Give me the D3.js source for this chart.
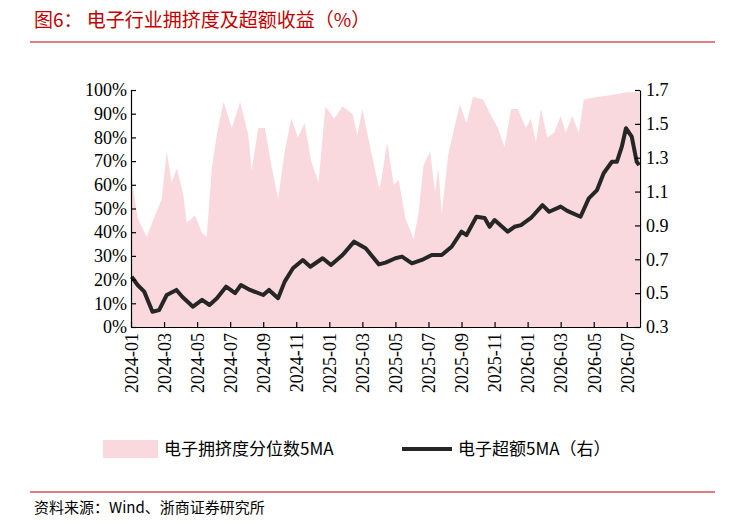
<!DOCTYPE html>
<html><head><meta charset="utf-8">
<script src="https://cdn.jsdelivr.net/npm/d3@7"></script>
<style>body{margin:0;background:#fff}</style>
</head><body><div id="chart"></div>
<script>
// month offsets from 2024-01
const crowdT = [0,0.04,0.4,0.95,1.45,1.86,2.16,2.46,2.77,3.16,3.37,3.88,4.28,4.58,4.89,5.19,5.6,6.1,6.6,7.1,7.3,7.7,8.1,8.5,8.9,9.3,9.7,10.1,10.5,10.9,11.35,11.76,12.3,12.8,13.4,13.7,14.0,14.5,15.0,15.1,15.5,15.9,16.2,16.6,17.1,17.4,17.7,18.1,18.4,18.6,18.8,19.2,19.5,19.9,20.3,20.7,21.3,21.8,22.2,22.6,23.0,23.4,23.9,24.2,24.5,24.8,25.2,25.6,26.0,26.3,26.7,27.1,27.4,28.2,29.2,30.0,30.75];
const crowdV = [63,63,46,38,47,54,74,61,67,56,44,47,40,38,67,81,95,84,95,81,66,84,84,68,54,74,88,80,86,70,61,93,88,93,90,81,92,75,59,60,78,60,62,46,37,48,68,74,57,67,48,73,82,94,86,97,96,89,84,76,92,92,84,88,78,92,80,82,89,82,89,82,96,97,98,99,99];
const exT = [0.04,0.4,0.8,1.3,1.7,2.16,2.75,3.1,3.75,4.3,4.75,5.2,5.75,6.3,6.65,7.2,8.0,8.35,8.9,9.3,9.8,10.4,10.85,11.6,12.1,12.8,13.5,14.2,15.0,15.4,16.0,16.4,17.0,17.6,18.2,18.8,19.4,20.0,20.3,20.9,21.4,21.7,22.0,22.8,23.2,23.6,24.2,24.9,25.3,26.0,26.4,27.2,27.7,28.2,28.6,29.1,29.4,29.7,29.95,30.3,30.6,30.75];
const exV = [0.597,0.548,0.509,0.39,0.40,0.489,0.519,0.479,0.42,0.46,0.43,0.47,0.538,0.50,0.548,0.519,0.489,0.519,0.47,0.568,0.647,0.696,0.656,0.706,0.666,0.725,0.804,0.765,0.67,0.68,0.706,0.716,0.676,0.696,0.725,0.725,0.774,0.863,0.843,0.951,0.944,0.892,0.932,0.863,0.892,0.902,0.944,1.02,0.981,1.011,0.986,0.951,1.06,1.109,1.208,1.276,1.276,1.365,1.474,1.425,1.276,1.256];
const tickLabels = ["2024-01","2024-03","2024-05","2024-07","2024-09","2024-11","2025-01","2025-03","2025-05","2025-07","2025-09","2025-11","2026-01","2026-03","2026-05","2026-07"];
const leftTicks = [0,10,20,30,40,50,60,70,80,90,100];
const rightTicks = [0.3,0.5,0.7,0.9,1.1,1.3,1.5,1.7];

const W = 729, H = 522;
const m = {left:131, right:640, top:90, bottom:327};
const svg = d3.select("#chart").append("svg").attr("width", W).attr("height", H);
const serif = "'Liberation Serif','Noto Sans CJK SC',serif";
const cjk = "'Noto Sans CJK SC',sans-serif";

svg.append("text").attr("x", 34).attr("y", 27).attr("fill", "#c00000")
  .attr("font-family", cjk).attr("font-size", 19).text("图6：  电子行业拥挤度及超额收益（%）");
svg.append("line").attr("x1", 30).attr("x2", 715).attr("y1", 42).attr("y2", 42).attr("stroke", "#c00000").attr("stroke-width", 1.2);

const x = d3.scaleLinear().domain([0, 30.8]).range([m.left, m.right]);
const yL = d3.scaleLinear().domain([0, 100]).range([m.bottom, m.top]);
const yR = d3.scaleLinear().domain([0.3, 1.7]).range([m.bottom, m.top]);

const crowd = crowdT.map((t, i) => [t, crowdV[i]]);
const ex = exT.map((t, i) => [t, exV[i]]);

svg.append("path").datum(crowd).attr("fill", "#f9d9de")
  .attr("d", d3.area().x(d => x(d[0])).y0(yL(0)).y1(d => yL(d[1])));
svg.append("path").datum(ex).attr("fill", "none").attr("stroke", "#262626").attr("stroke-width", 4)
  .attr("stroke-linejoin", "round")
  .attr("d", d3.line().x(d => x(d[0])).y(d => yR(d[1])));

const gl = svg.append("g").attr("transform", `translate(${m.left},0)`)
  .call(d3.axisLeft(yL).tickValues(leftTicks).tickSizeInner(-5).tickSizeOuter(0).tickPadding(4).tickFormat(d => d + "%"));
const gr = svg.append("g").attr("transform", `translate(${m.right},0)`)
  .call(d3.axisRight(yR).tickValues(rightTicks).tickSizeInner(-5).tickSizeOuter(0).tickPadding(6).tickFormat(d3.format(".1f")));
const gb = svg.append("g").attr("transform", `translate(0,${m.bottom})`)
  .call(d3.axisBottom(x).tickValues(d3.range(0, 31, 2)).tickSizeInner(-5).tickSizeOuter(0).tickFormat((d, i) => tickLabels[i]));
gb.selectAll("text").attr("transform", "rotate(-90)").attr("text-anchor", "end")
  .attr("x", -6).attr("y", 0).attr("dy", "0.35em");
[gl, gr, gb].forEach(g => {
  g.selectAll("text").attr("font-family", serif).attr("font-size", 18).attr("fill", "#000");
  g.selectAll("line,path").attr("stroke", "#000").attr("stroke-width", 1.2);
});

// legend
const lg = svg.append("g").attr("font-family", cjk).attr("font-size", 17);
lg.append("rect").attr("x", 103).attr("y", 440).attr("width", 55).attr("height", 18).attr("fill", "#f9d9de");
lg.append("text").attr("x", 164).attr("y", 455).text("电子拥挤度分位数5MA");
lg.append("line").attr("x1", 402).attr("x2", 452).attr("y1", 449).attr("y2", 449).attr("stroke", "#262626").attr("stroke-width", 4);
lg.append("text").attr("x", 458).attr("y", 455).text("电子超额5MA（右）");

svg.append("line").attr("x1", 30).attr("x2", 715).attr("y1", 492).attr("y2", 492).attr("stroke", "#c00000").attr("stroke-width", 1.2);
svg.append("text").attr("x", 34).attr("y", 513).attr("font-family", cjk).attr("font-size", 15).text("资料来源：Wind、浙商证券研究所");
</script></body></html>
